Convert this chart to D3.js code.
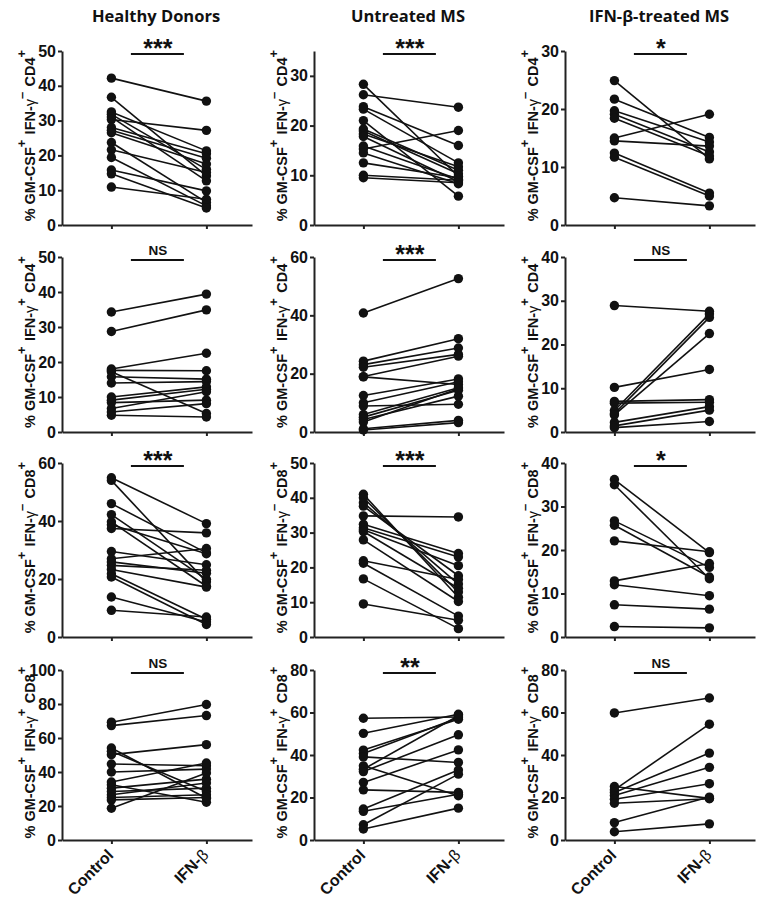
<!DOCTYPE html>
<html><head><meta charset="utf-8">
<script src="https://cdn.jsdelivr.net/npm/d3@7"></script>
<style>body{margin:0;background:#fff} svg{display:block}</style>
</head><body><svg id="c" width="764" height="903"></svg>
<script>
const categories = ["Control", "IFN-β"];
const groups = ["Healthy Donors", "Untreated MS", "IFN-β-treated MS"];
const ifnSign = ["-", "+", "-", "+"];
const cdLabel = ["CD4", "CD4", "CD8", "CD8"];
const yMax = [[50, 35, 30], [50, 60, 40], [60, 50, 40], [100, 80, 80]];
const tickStep = [[10, 10, 10], [10, 20, 10], [20, 10, 10], [20, 20, 20]];
const sig = [["***", "***", "*"], ["NS", "***", "NS"], ["***", "***", "*"], ["NS", "**", "NS"]];

// Row 1: GM-CSF+ IFN-g- CD4+
const hd_cd4neg_ctrl = [42.2, 36.7, 32.5, 31.8, 31.0, 30.3, 28.0, 27.2, 26.5, 23.7, 21.6, 19.4, 15.8, 14.7, 10.9];
const hd_cd4neg_ifn  = [35.6, 14.1, 21.3, 16.0, 12.7, 27.2, 20.5, 19.2, 17.5, 6.5, 15.1, 5.5, 9.8, 4.9, 7.4];
const ums_cd4neg_ctrl = [28.3, 26.2, 23.8, 23.3, 21.0, 19.3, 18.9, 18.3, 17.8, 15.9, 15.3, 14.5, 12.5, 10.0, 9.5];
const ums_cd4neg_ifn  = [9.8, 23.7, 16.0, 12.5, 5.8, 11.0, 10.3, 11.7, 8.7, 9.2, 19.0, 8.3, 9.5, 9.0, 8.5];
const tms_cd4neg_ctrl = [24.9, 21.7, 19.7, 19.1, 18.4, 15.0, 14.5, 12.4, 11.7, 4.7];
const tms_cd4neg_ifn  = [11.4, 15.1, 14.3, 12.6, 11.9, 19.1, 13.6, 5.5, 5.0, 3.3];
// Row 2: GM-CSF+ IFN-g+ CD4+
const hd_cd4pos_ctrl = [34.3, 28.7, 18.0, 17.6, 17.2, 15.8, 14.0, 10.0, 9.1, 8.4, 6.7, 5.7, 4.8];
const hd_cd4pos_ifn  = [39.4, 34.9, 22.5, 17.5, 5.3, 15.1, 14.4, 12.9, 12.2, 9.1, 11.5, 8.1, 4.3];
const ums_cd4pos_ctrl = [40.8, 24.3, 23.1, 22.2, 19.0, 18.9, 12.5, 10.0, 8.9, 6.0, 5.1, 4.3, 3.4, 1.1, 0.7];
const ums_cd4pos_ifn  = [52.6, 32.0, 28.8, 26.6, 26.0, 16.3, 18.2, 17.2, 9.5, 15.2, 14.3, 12.3, 14.8, 4.0, 3.2];
const tms_cd4pos_ctrl = [28.9, 10.2, 7.0, 6.6, 4.9, 4.2, 3.9, 2.2, 1.4, 1.0];
const tms_cd4pos_ifn  = [27.6, 14.3, 7.4, 6.8, 27.0, 26.2, 22.5, 5.8, 5.0, 2.4];
// Row 3: GM-CSF+ IFN-g- CD8+
const hd_cd8neg_ctrl = [54.9, 54.0, 46.0, 42.2, 39.7, 38.7, 37.4, 29.5, 27.0, 25.9, 24.7, 23.3, 21.8, 20.7, 13.8, 9.2];
const hd_cd8neg_ifn  = [39.1, 19.0, 29.0, 19.9, 17.5, 28.7, 35.9, 24.9, 30.5, 22.0, 23.0, 17.2, 6.1, 4.3, 5.2, 6.9];
const ums_cd8neg_ctrl = [41.0, 40.0, 38.6, 37.6, 34.8, 32.4, 31.4, 30.8, 30.3, 27.9, 21.9, 21.2, 16.7, 9.5];
const ums_cd8neg_ifn  = [11.4, 12.9, 15.2, 17.6, 34.5, 24.0, 23.0, 20.5, 14.0, 10.2, 16.5, 6.0, 2.4, 4.8];
const tms_cd8neg_ctrl = [36.2, 35.0, 26.7, 25.7, 22.1, 12.9, 12.0, 7.4, 2.4];
const tms_cd8neg_ifn  = [19.4, 13.4, 16.0, 13.8, 19.6, 16.9, 9.5, 6.4, 2.1];
// Row 4: GM-CSF+ IFN-g+ CD8+
const hd_cd8pos_ctrl = [69.3, 67.3, 54.1, 52.2, 50.2, 44.7, 40.0, 34.1, 32.5, 30.5, 28.5, 26.6, 25.0, 23.6, 18.7];
const hd_cd8pos_ifn  = [79.7, 73.2, 24.6, 28.5, 56.1, 43.7, 41.7, 45.3, 22.2, 35.8, 30.5, 33.5, 26.6, 25.0, 39.4];
const ums_cd8pos_ctrl = [57.3, 50.2, 42.3, 40.7, 39.1, 34.9, 33.3, 32.2, 27.1, 23.6, 14.6, 13.5, 7.2, 5.2];
const ums_cd8pos_ifn  = [57.9, 59.2, 56.8, 57.5, 36.5, 20.8, 58.5, 49.5, 42.4, 22.4, 32.9, 21.5, 31.0, 15.0];
const tms_cd8pos_ctrl = [59.8, 25.2, 23.6, 22.4, 20.9, 19.2, 17.3, 8.2, 3.9];
const tms_cd8pos_ifn  = [66.8, 19.6, 54.5, 40.9, 34.2, 26.5, 19.4, 20.2, 7.6];

const dataGrid = [
  [[hd_cd4neg_ctrl, hd_cd4neg_ifn], [ums_cd4neg_ctrl, ums_cd4neg_ifn], [tms_cd4neg_ctrl, tms_cd4neg_ifn]],
  [[hd_cd4pos_ctrl, hd_cd4pos_ifn], [ums_cd4pos_ctrl, ums_cd4pos_ifn], [tms_cd4pos_ctrl, tms_cd4pos_ifn]],
  [[hd_cd8neg_ctrl, hd_cd8neg_ifn], [ums_cd8neg_ctrl, ums_cd8neg_ifn], [tms_cd8neg_ctrl, tms_cd8neg_ifn]],
  [[hd_cd8pos_ctrl, hd_cd8pos_ifn], [ums_cd8pos_ctrl, ums_cd8pos_ifn], [tms_cd8pos_ctrl, tms_cd8pos_ifn]]
];

const svg = d3.select("#c");
const FONT = "'Liberation Sans', Arial, sans-serif";
const colX = [62, 314, 565];
const rowY = [[225, 51], [432, 257], [637, 463], [840, 670]];
const xW = 190;

// column titles
groups.forEach((t, c) => {
  svg.append("text").attr("x", colX[c] + 94).attr("y", 22)
    .attr("text-anchor", "middle").attr("font-family", "'Open Sans', sans-serif")
    .attr("font-weight", "bold").attr("font-size", 16.5).attr("fill", "#111").text(t);
});

for (let r = 0; r < 4; r++) {
  for (let c = 0; c < 3; c++) {
    const [ctrl, ifn] = dataGrid[r][c];
    const x0 = colX[c];
    const [yb, yt] = rowY[r];
    const x = d3.scalePoint().domain(categories).range([x0, x0 + xW]).padding(0.5).align(0.52);
    const y = d3.scaleLinear().domain([0, yMax[r][c]]).range([yb, yt]);
    const g = svg.append("g");

    const ya = g.append("g").attr("transform", `translate(${x0},0)`)
      .call(d3.axisLeft(y).tickValues(d3.range(0, yMax[r][c] + 0.001, tickStep[r][c]))
        .tickSize(4).tickPadding(2).tickSizeOuter(0));
    ya.selectAll("text").attr("font-family", FONT).attr("font-weight", "bold")
      .attr("font-size", 16).attr("fill", "#111");

    const xa = g.append("g").attr("transform", `translate(0,${yb})`)
      .call(d3.axisBottom(x).tickSize(4).tickSizeOuter(0).tickFormat(""));
    [ya, xa].forEach(a => {
      a.select(".domain").attr("stroke", "#222").attr("stroke-width", 2);
      a.selectAll(".tick line").attr("stroke", "#222").attr("stroke-width", 2);
    });

    if (r === 3) {
      categories.forEach(cat => {
        const t = g.append("text")
          .attr("transform", `translate(${x(cat) + 3},${yb + 16}) rotate(-45)`)
          .attr("text-anchor", "end").attr("font-family", FONT)
          .attr("font-weight", "bold").attr("font-size", 16).attr("fill", "#111");
        if (cat === "IFN-β") {
          t.append("tspan").text("IFN-");
          t.append("tspan").attr("font-weight", "normal").text("β");
        } else t.text(cat);
      });
    }

    // y label
    const lab = g.append("text")
      .attr("transform", `translate(${x0 - 27},${(yb + yt) / 2 - 3}) rotate(-90)`)
      .attr("text-anchor", "middle").attr("font-family", FONT)
      .attr("font-weight", "bold").attr("font-size", 14.5).attr("fill", "#111");
    const sup = (s) => {
      lab.append("tspan").attr("dy", -9).attr("font-size", 13).text(s);
      lab.append("tspan").attr("dy", 9).text("\u200A");
    };
    lab.append("tspan").text("% GM-CSF");
    sup("+");
    lab.append("tspan").text(" IFN-");
    lab.append("tspan").attr("font-weight", "normal").text("γ");
    sup(ifnSign[r] === "-" ? "\u2013" : "+");
    lab.append("tspan").text(" " + cdLabel[r]);
    sup("+");

    // significance
    const mid = (x(categories[0]) + x(categories[1])) / 2;
    const by = yt + 3;
    g.append("line").attr("x1", mid - 28).attr("x2", mid + 25).attr("y1", by).attr("y2", by)
      .attr("stroke", "#111").attr("stroke-width", 2);
    const s = sig[r][c];
    g.append("text").attr("x", mid - 1).attr("y", s === "NS" ? by - 5 : by + 3)
      .attr("text-anchor", "middle").attr("font-family", FONT).attr("font-weight", "bold")
      .attr("font-size", s === "NS" ? 13.5 : 25).attr("fill", "#111").text(s);

    // paired lines
    g.append("g").selectAll("line").data(ctrl).join("line")
      .attr("x1", x(categories[0])).attr("y1", d => y(d))
      .attr("x2", x(categories[1])).attr("y2", (d, i) => y(ifn[i]))
      .attr("stroke", "#111").attr("stroke-width", 1.6);
    // dots
    const pts = ctrl.map(v => [categories[0], v]).concat(ifn.map(v => [categories[1], v]));
    g.append("g").selectAll("circle").data(pts).join("circle")
      .attr("cx", d => x(d[0])).attr("cy", d => y(d[1])).attr("r", 4.7).attr("fill", "#111");
  }
}
</script></body></html>
